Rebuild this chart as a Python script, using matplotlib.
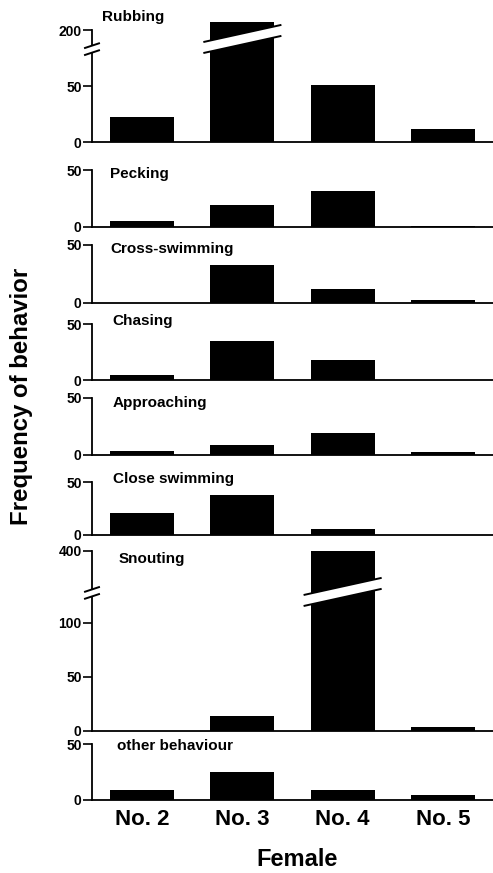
import numpy as np
import matplotlib
matplotlib.use("Agg")
import matplotlib.pyplot as plt
from matplotlib.patches import Polygon
from matplotlib.lines import Line2D

plt.rcParams['font.family'] = ['Liberation Sans', 'DejaVu Sans']
plt.rcParams['font.weight'] = 'bold'

## data
females = ['No. 2', 'No. 3', 'No. 4', 'No. 5']
behaviours = ['Rubbing', 'Pecking', 'Cross-swimming', 'Chasing',
              'Approaching', 'Close swimming', 'Snouting', 'other behaviour']
rubbing = [22, 207, 51, 12]
pecking = [5, 19, 32, 1]
cross_swimming = [0, 33, 12, 2.5]
chasing = [4.5, 35, 18, 0]
approaching = [3.5, 8, 19, 2.5]
close_swimming = [21, 38, 6, 0]
snouting = [0, 14, 400, 3.5]
other_behaviour = [9, 25, 9, 4.5]
values = [rubbing, pecking, cross_swimming, chasing,
          approaching, close_swimming, snouting, other_behaviour]

## layout in pixels (zero line, top of axes), label position
W, H = 493, 873
zero_px = [142, 227, 302.5, 380, 454.5, 535, 731, 799.5]
top_px = [18.8, 170, 245, 324, 397.5, 482, 545.2, 744]
lab_xy = [(102, 17), (110, 174), (110, 249), (112, 321),
          (113, 403), (113, 479), (119, 559), (117, 746)]
left_px = 92


def make_break(b1, b2, d2):
    # linear below b1, squeezed between b1 and b2, slope 1 above b2
    def fwd(v):
        v = np.asarray(v, float)
        mid = b1 + (v - b1) * (d2 - b1) / (b2 - b1)
        return np.where(v <= b1, v, np.where(v >= b2, d2 + (v - b2), mid))

    def inv(d):
        d = np.asarray(d, float)
        mid = b1 + (d - b1) * (b2 - b1) / (d2 - b1)
        return np.where(d <= b1, d, np.where(d >= d2, b2 + (d - d2), mid))
    return fwd, inv


## broken panels: index -> (b1, b2, d2, ylim top, spine top, ticks, axis brk, bar brk, bar idx)
breaks = {
    0: (80, 190, 90, 210, 200, [0, 50, 200], 112, 192, 1),
    6: (115, 390, 157, 405, 400, [0, 50, 100, 400], 199, 205, 2),
}

fig = plt.figure(figsize=(W / 100, H / 100), dpi=100)
to_fig = fig.transFigure.inverted()
x = np.arange(len(females))


def add_fig_line(pts, lw=1.4):
    p = to_fig.transform(pts)
    fig.lines.append(Line2D(p[:, 0], p[:, 1], color='black', lw=lw,
                            transform=fig.transFigure, zorder=6))


def add_fig_white(pts):
    p = to_fig.transform(pts)
    fig.patches.append(Polygon(p, closed=True, facecolor='white', edgecolor='none',
                               transform=fig.transFigure, zorder=5))


def slanted_gap(cx, cy, half_w, half_h, slope):
    xs = np.array([cx - half_w, cx + half_w])
    lo = np.column_stack([xs, cy - half_h + slope * (xs - cx)])
    hi = np.column_stack([xs, cy + half_h + slope * (xs - cx)])
    add_fig_white(np.vstack([lo, hi[::-1]]))
    add_fig_line(lo)
    add_fig_line(hi)


for k, vals in enumerate(values):
    z, t = zero_px[k], top_px[k]
    ax = fig.add_axes([left_px / W, 1 - z / H, 1 - left_px / W, (z - t) / H])
    ax.bar(x, vals, width=0.64, color='black', linewidth=0)
    ax.set_xlim(-0.5, 3.5)
    if k in breaks:
        b1, b2, d2, ytop, stop, ticks, abrk, bbrk, bi = breaks[k]
        ax.set_yscale('function', functions=make_break(b1, b2, d2))
        ax.set_ylim(0, ytop)
        ax.spines['left'].set_bounds(0, stop)
        ax.set_yticks(ticks)
    else:
        ax.set_ylim(0, 50)
        ax.set_yticks([0, 50])
    for s in ['top', 'right']:
        ax.spines[s].set_visible(False)
    for s in ['left', 'bottom']:
        ax.spines[s].set_linewidth(1.3)
    ax.tick_params(axis='y', direction='out', length=6.5, width=1.2,
                   labelsize=10, pad=1)
    if k == len(values) - 1:
        ax.set_xticks(x)
        ax.set_xticklabels(females, fontsize=16)
        ax.tick_params(axis='x', length=0, pad=7)
    else:
        ax.set_xticks([])
    fig.text(lab_xy[k][0] / W, 1 - lab_xy[k][1] / H, behaviours[k],
             ha='left', va='center', fontsize=11)

    if k in breaks:
        # break on the axis line
        sx, sy = ax.transData.transform((-0.5, abrk))
        slanted_gap(sx, sy, 7, 3.5, 0.33)
        # break across the tall bar
        bx, by = ax.transData.transform((x[bi], bbrk))
        half = 0.32 * (ax.transData.transform((1, 0))[0] - ax.transData.transform((0, 0))[0])
        slanted_gap(bx, by, half + 6, 5.5, 0.22)

fig.text(22 / W, 1 - 396 / H, 'Frequency of behavior', rotation=90,
         ha='center', va='center', fontsize=17.3)
fig.text(297 / W, 1 - 860 / H, 'Female', ha='center', va='center', fontsize=17)

fig.savefig('out.png', dpi=100)
